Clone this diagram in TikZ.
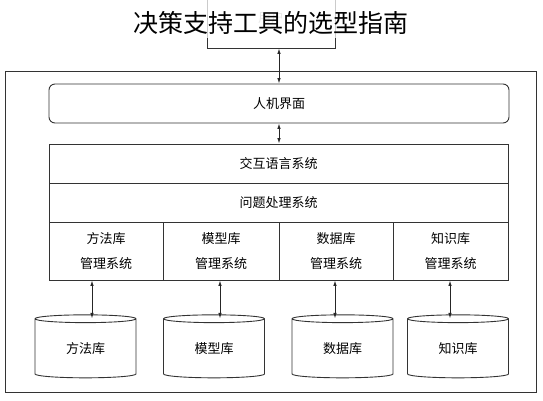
\documentclass[tikz,border=0pt]{standalone}
\usepackage{fontspec}
\setmainfont{Noto Sans CJK SC}
\usetikzlibrary{shapes.geometric,arrows.meta}
\tikzset{
  blk/.style={draw=black!80, line width=0.9pt, inner sep=0pt,
    font=\fontsize{13}{15}\selectfont},
  lib/.style={blk, cylinder, shape border rotate=90, aspect=0.2,
    minimum width=101, minimum height=63},
  dbl/.style={{Latex[length=5.5pt,width=3.5pt]}-{Latex[length=5.5pt,width=3.5pt]},
    line width=0.9pt, draw=black!85}
}
\begin{document}
\begin{tikzpicture}[x=1pt,y=-1pt]
  \useasboundingbox (0,0) rectangle (543,400);
  % user box, partly under the title
  \node[blk, minimum width=128, minimum height=60, text=black!35] (user) at (271,18) {用户};
  \node[font=\fontsize{25}{28}\selectfont, fill=white, fill opacity=0.75,
    text opacity=1, minimum height=38, text height=26pt, text depth=0pt,
    inner xsep=2pt] (title) at (271,19) {决策支持工具的选型指南};
  % outer frame
  \node[blk, minimum width=531, minimum height=321] (frame) at (270.5,231.5) {};
  \node[blk, rounded corners=6pt, minimum width=460, minimum height=39] (hci) at (279,103.5) {人机界面};
  \node[blk, minimum width=459, minimum height=39] (lang) at (278.5,163.5) {交互语言系统};
  \node[blk, minimum width=459, minimum height=39] (prob) at (278.5,202.5) {问题处理系统};
  \foreach \n/\cx/\w/\ax/\kx/\lab in {A/106/114/92/85.5/方法库, B/221/116/220/214/模型库,
      C/336/114/335/342.5/数据库, D/450.5/115/450/458/知识库}{
    \node[blk, align=center, minimum width=\w, minimum height=58] (m\n) at (\cx,251)
      {\raisebox{3pt}{\lab}\\[7pt]管理系统};
    \node[lib] (k\n) at (\kx,348.5) {\raisebox{-5pt}{\lab}};
    \coordinate (a\n) at (\ax,0);
    \draw[dbl] (m\n.south -| a\n) -- ++(0,38);
  }
  \draw[dbl] (user.south -| hci.north) -- (hci.north);
  \draw[dbl] (hci.south) -- (hci.south |- lang.north);
\end{tikzpicture}
\end{document}
